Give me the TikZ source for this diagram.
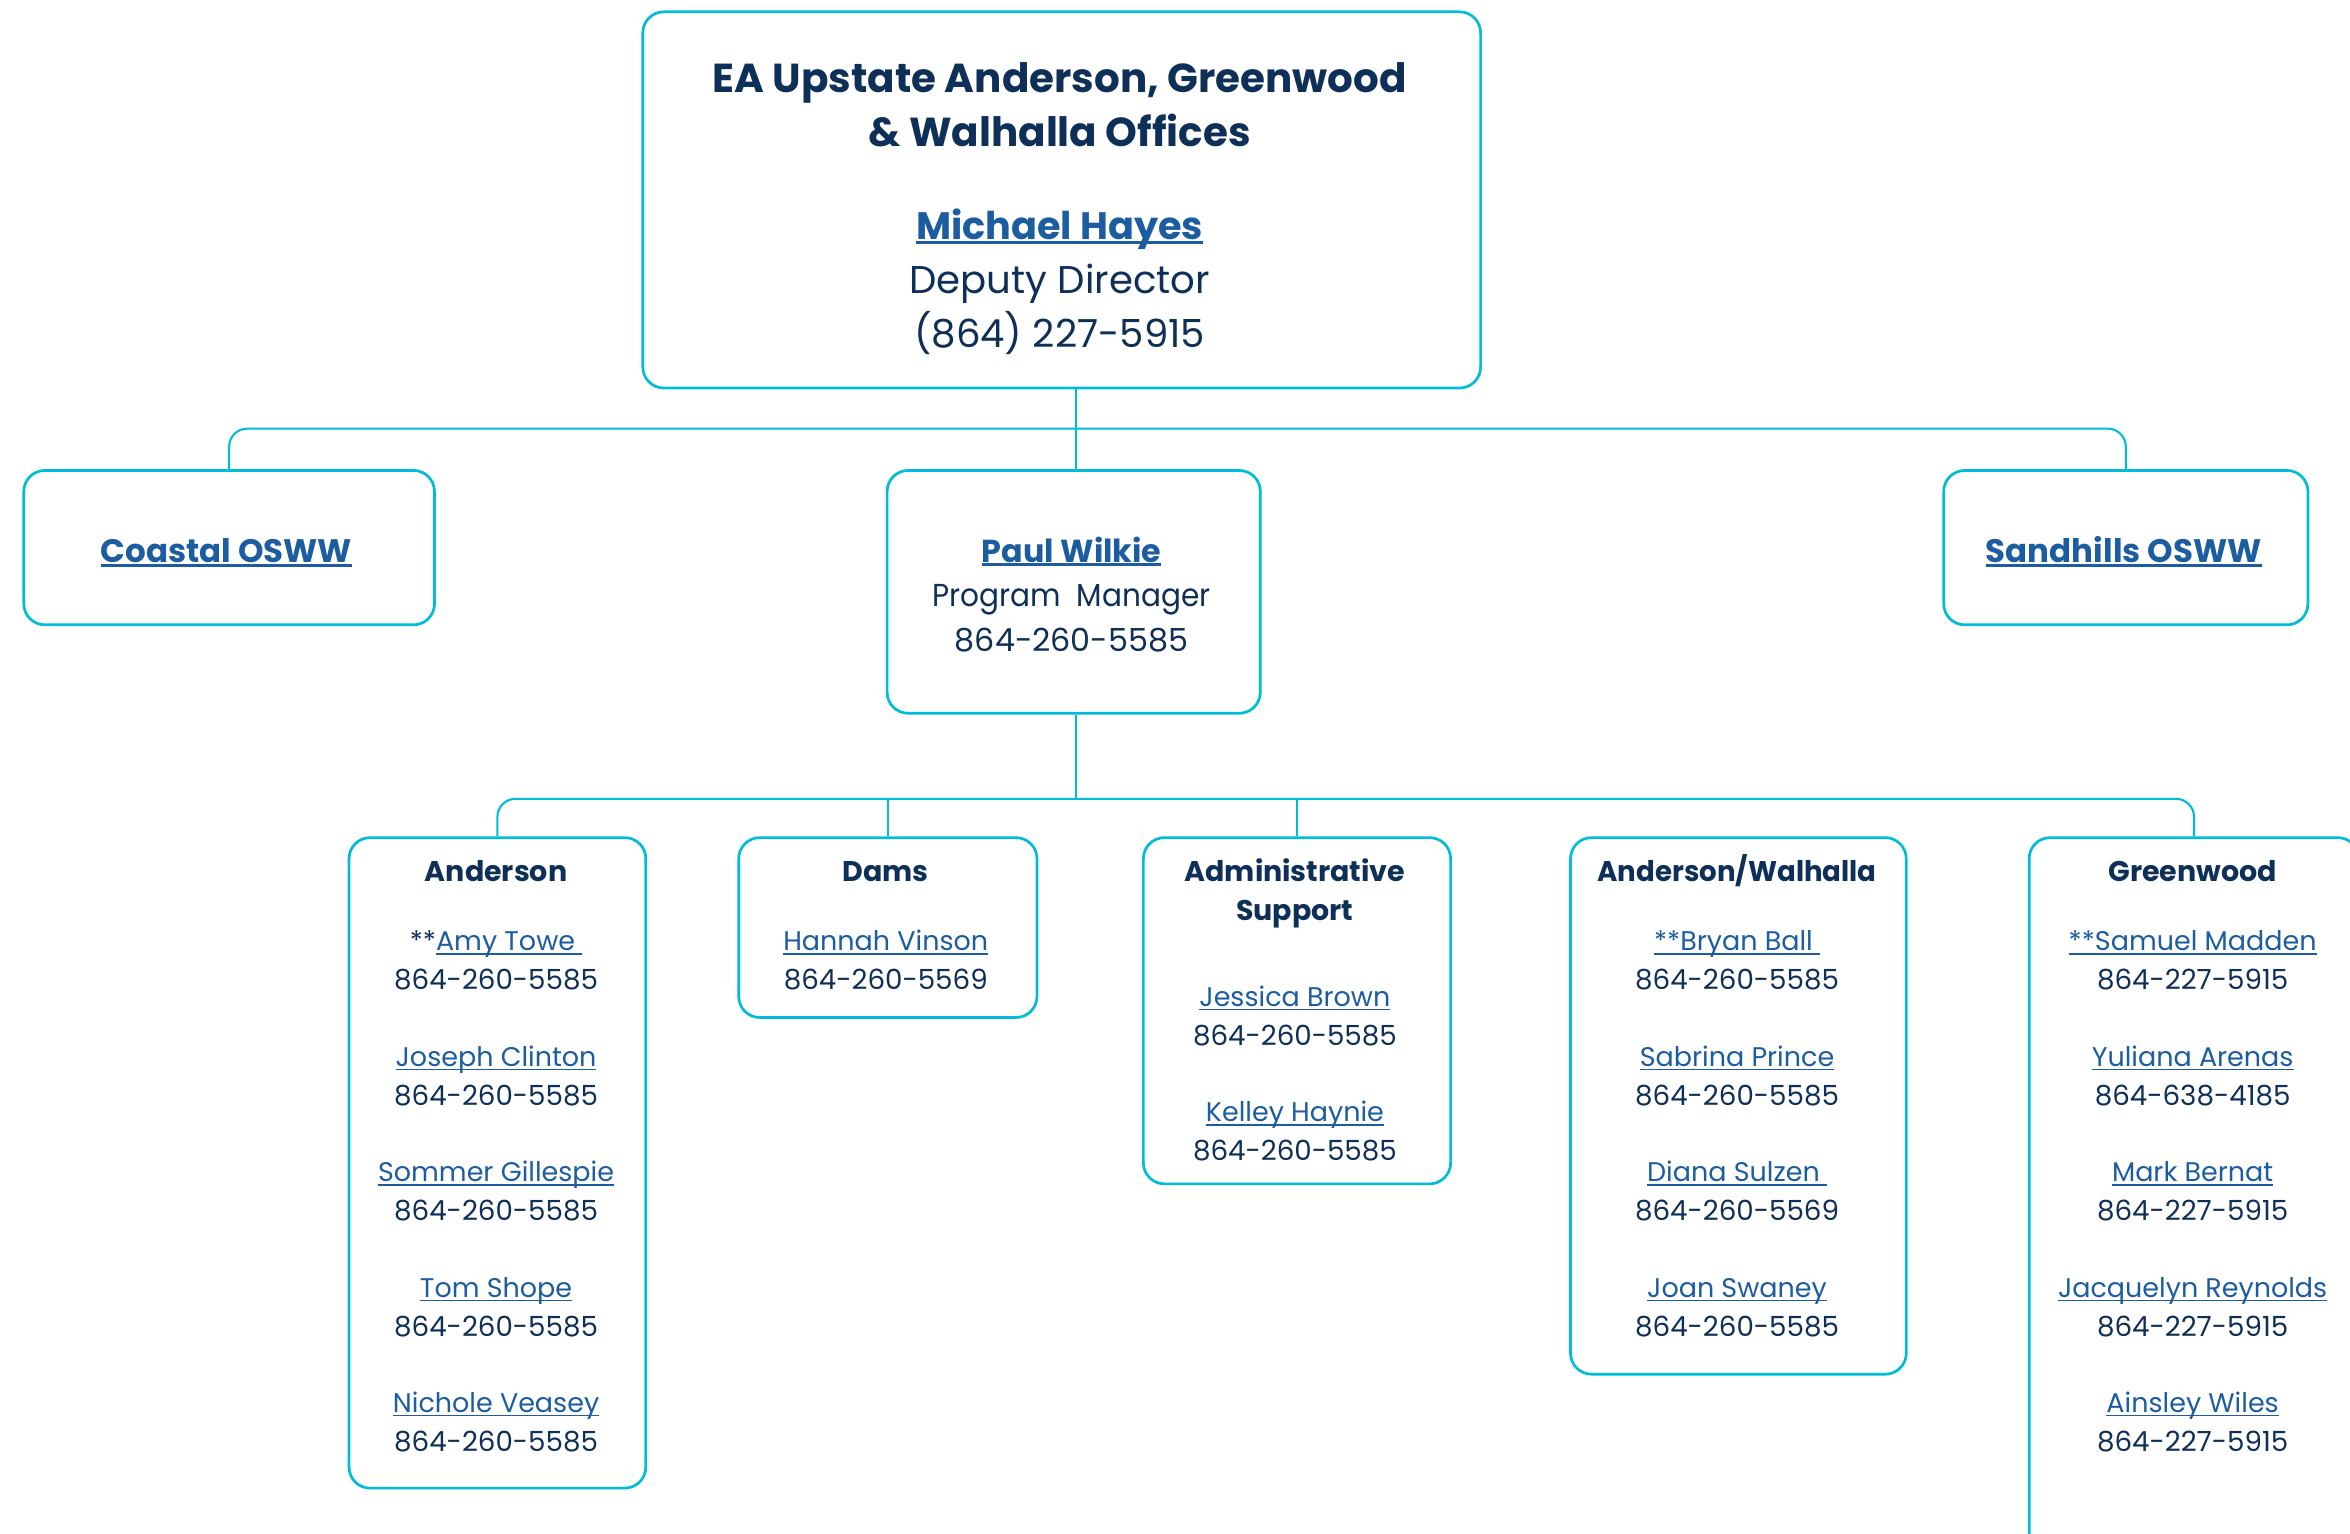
\documentclass[tikz,border=0pt]{standalone}
\usepackage{fontspec}
\setmainfont{Poppins}
\usetikzlibrary{calc}
\definecolor{cyanline}{RGB}{0,188,216}
\definecolor{navy}{RGB}{14,47,88}
\definecolor{linkblue}{RGB}{28,92,160}
\newcommand\myul[2]{\setbox0=\hbox{#2}\rlap{\rule[-0.14em]{\wd0}{#1}}\box0}
\newcommand\person[5]{%
  \node[nm] (#1n) at (#2,#3) {#4};
  \node[ph] (#1p) at (#2,#3+26) {#5};}
\begin{document}
\begin{tikzpicture}[x=1pt,y=-1pt,
  box/.style={draw=cyanline,line width=1.8pt,rounded corners=14pt,inner sep=0pt,anchor=north west},
  conn/.style={draw=cyanline,line width=1.4pt},
  txt/.style={anchor=base,inner sep=0pt,text=navy},
  ttl/.style={txt,font=\fontsize{27}{32}\selectfont\bfseries},
  tnm/.style={txt,text=linkblue,font=\fontsize{25.5}{30}\selectfont\bfseries},
  tre/.style={txt,font=\fontsize{25.8}{30}\selectfont},
  snm/.style={txt,text=linkblue,font=\fontsize{21.7}{26}\selectfont\bfseries},
  sre/.style={txt,font=\fontsize{21.2}{26}\selectfont},
  hdr/.style={txt,font=\fontsize{19}{23}\selectfont\bfseries},
  nm/.style={txt,text=linkblue,font=\fontsize{18}{22}\selectfont},
  ph/.style={txt,font=\fontsize{18.5}{22}\selectfont}]
\useasboundingbox (0,0) rectangle (1568,1023.5);
% boxes
\node[box,minimum width=559pt,minimum height=251pt] (top) at (428,7) {};
\node[box,minimum width=274pt,minimum height=103pt] (coastal) at (15,313) {};
\node[box,minimum width=249pt,minimum height=162pt] (paul) at (591,313) {};
\node[box,minimum width=243pt,minimum height=103pt] (sand) at (1296,313) {};
\node[box,minimum width=198pt,minimum height=434pt] (and) at (232,558) {};
\node[box,minimum width=199pt,minimum height=120pt] (dams) at (492,558) {};
\node[box,minimum width=205pt,minimum height=231pt] (adm) at (762,558) {};
\node[box,minimum width=224pt,minimum height=358pt] (aw) at (1047,558) {};
\node[box,minimum width=220pt,minimum height=480pt] (gw) at (1353,558) {};
% connectors
\coordinate (j1) at (718,286);
\coordinate (j2) at (718,533);
\draw[conn,rounded corners=12pt] (coastal.north) |- (j1) -| (sand.north);
\draw[conn] (top.south -| j1) -- (j1) -- (j1 |- paul.north);
\draw[conn,rounded corners=12pt] (and.north) |- (j2) -| (gw.north);
\draw[conn] (paul.south -| j2) -- (j2);
\draw[conn] (dams.north |- j2) -- (dams.north);
\draw[conn] (adm.north |- j2) -- (adm.north);
% top texts
\node[ttl] (t1) at (707,61.5) {EA Upstate Anderson, Greenwood};
\node[ttl] (t2) at (707,97.5) {\& Walhalla Offices};
\node[tnm] (t3) at (707,159.5) {\myul{2.1pt}{Michael Hayes}};
\node[tre] (t4) at (707,196) {Deputy Director};
\node[tre] (t5) at (707,232) {(864) 227-5915};
% second level
\node[snm] (c1) at (151,375) {\myul{2pt}{Coastal OSWW}};
\node[snm] (s1) at (1417,375) {\myul{2pt}{Sandhills OSWW}};
\node[snm,font=\fontsize{21.2}{26}\selectfont\bfseries] (p1) at (715,375) {\myul{2pt}{Paul Wilkie}};
\node[sre] (p2) at (715,405) {\scalebox{0.93}[1]{Program~~Manager}};
\node[sre] (p3) at (715,435) {864-260-5585};
% Anderson
\node[hdr] (ah) at (331,588) {Anderson};
\person{a1}{331}{634.5}{{\color{navy}**}\myul{0.9pt}{Amy Towe\ }}{864-260-5585}
\person{a2}{331}{711.5}{\myul{0.9pt}{Joseph Clinton}}{864-260-5585}
\person{a3}{331}{788.5}{\myul{0.9pt}{Sommer Gillespie}}{864-260-5585}
\person{a4}{331}{865.5}{\myul{0.9pt}{Tom Shope}}{864-260-5585}
\person{a5}{331}{942.5}{\myul{0.9pt}{Nichole Veasey}}{864-260-5585}
% Dams
\node[hdr] (dh) at (591,588) {Dams};
\person{d1}{591}{634.5}{\myul{0.9pt}{Hannah Vinson}}{864-260-5569}
% Admin
\node[hdr] (mh1) at (864,588) {Administrative};
\node[hdr] (mh2) at (864,614) {Support};
\person{m1}{864}{671.5}{\myul{0.9pt}{Jessica Brown}}{864-260-5585}
\person{m2}{864}{748.5}{\myul{0.9pt}{Kelley Haynie}}{864-260-5585}
% Anderson/Walhalla
\node[hdr] (wh) at (1159,588) {\scalebox{0.97}[1]{Anderson/Walhalla}};
\person{w1}{1159}{634.5}{\myul{0.9pt}{**Bryan Ball\ }}{864-260-5585}
\person{w2}{1159}{711.5}{\myul{0.9pt}{Sabrina Prince}}{864-260-5585}
\person{w3}{1159}{788.5}{\myul{0.9pt}{Diana Sulzen\ }}{864-260-5569}
\person{w4}{1159}{865.5}{\myul{0.9pt}{Joan Swaney}}{864-260-5585}
% Greenwood
\node[hdr] (gh) at (1463,588) {Greenwood};
\person{g1}{1463}{634.5}{\myul{0.9pt}{**Samuel Madden}}{864-227-5915}
\person{g2}{1463}{711.5}{\myul{0.9pt}{Yuliana Arenas}}{864-638-4185}
\person{g3}{1463}{788.5}{\myul{0.9pt}{Mark Bernat}}{864-227-5915}
\person{g4}{1463}{865.5}{\myul{0.9pt}{Jacquelyn Reynolds}}{864-227-5915}
\person{g5}{1463}{942.5}{\myul{0.9pt}{Ainsley Wiles}}{864-227-5915}
\end{tikzpicture}
\end{document}
